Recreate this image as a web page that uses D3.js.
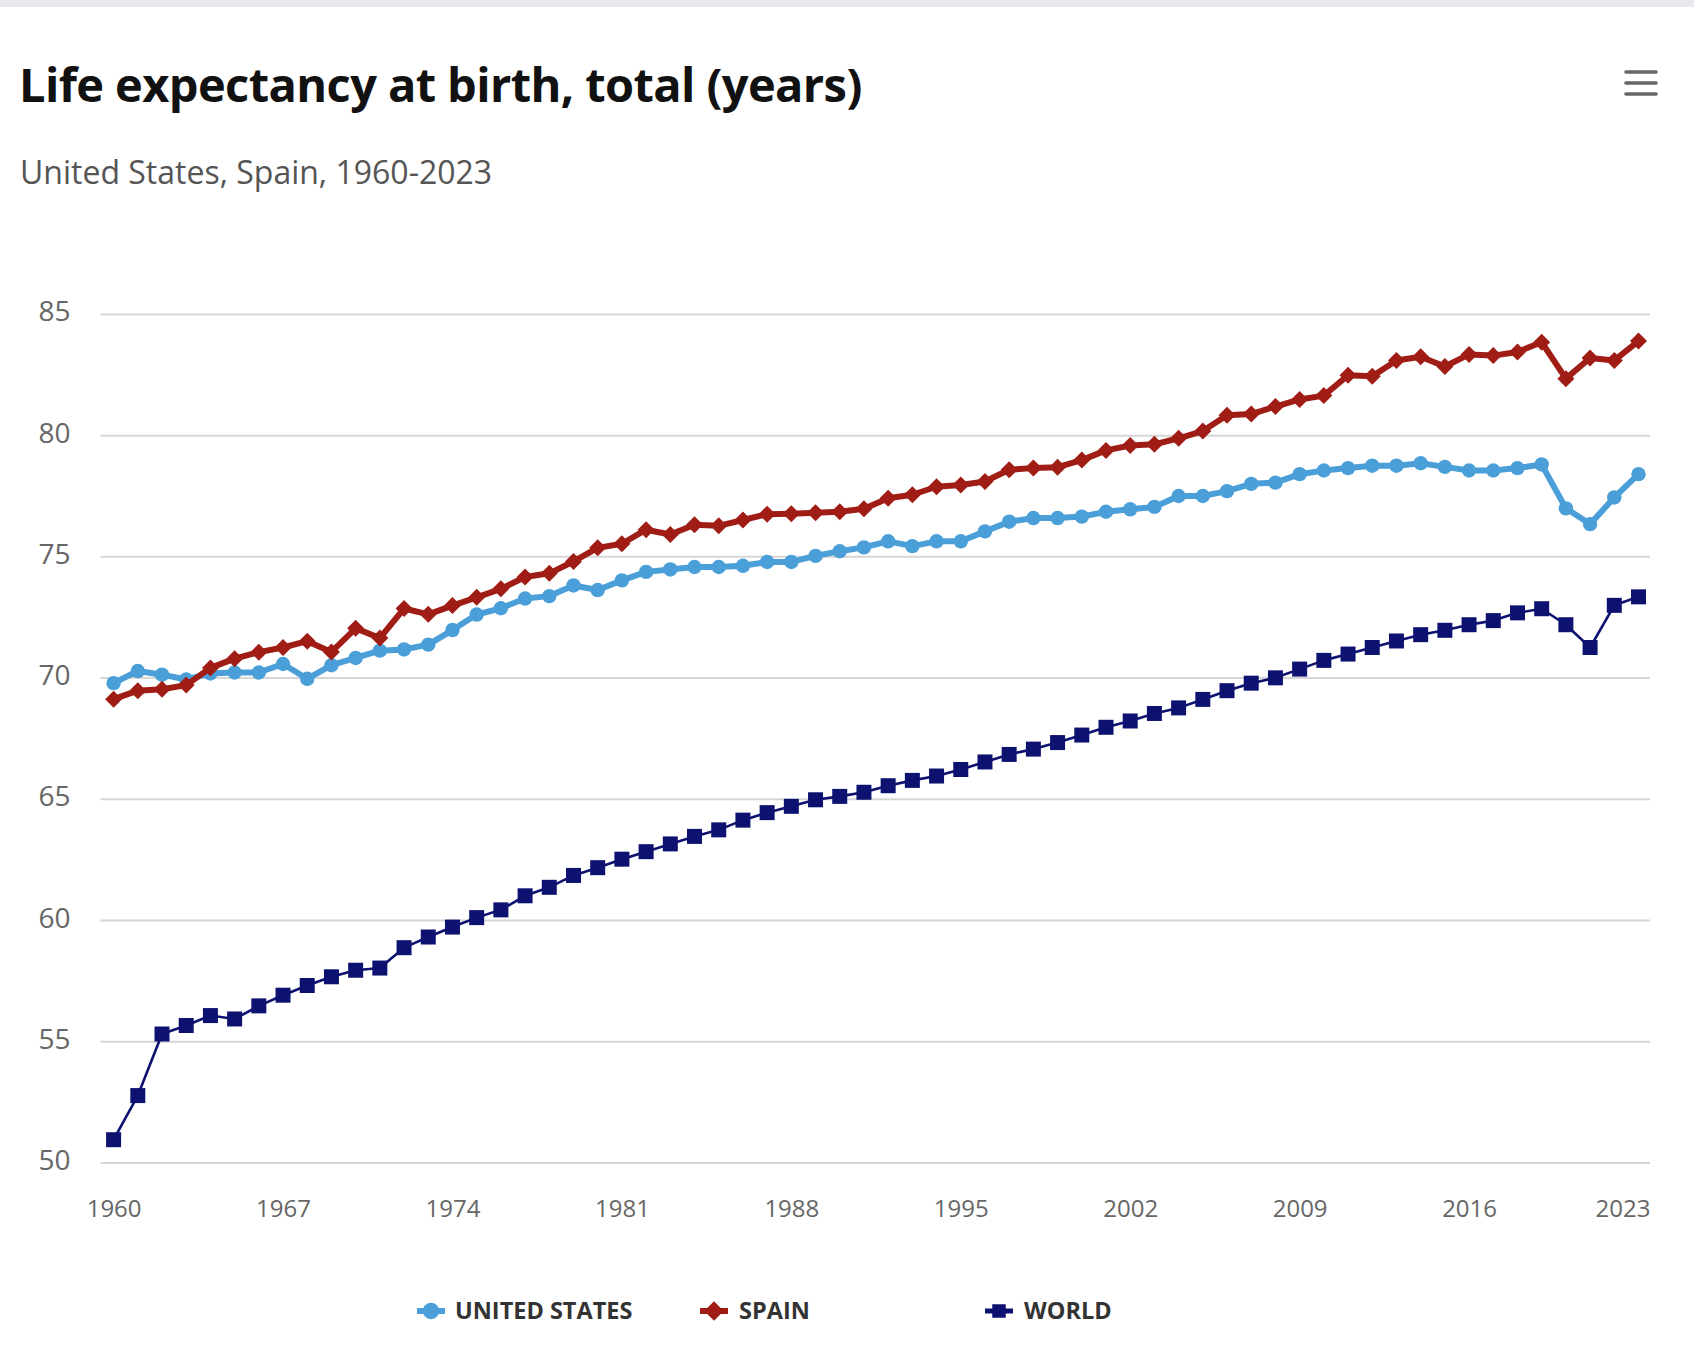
<!DOCTYPE html>
<html>
<head>
<meta charset="utf-8">
<script src="https://cdn.jsdelivr.net/npm/d3@7"></script>
<style>
  html, body { margin: 0; padding: 0; background: #fff; }
  svg { display: block; font-family: "Open Sans", "Noto Sans", sans-serif; }
</style>
</head>
<body>
<svg id="chart" width="1694" height="1357"></svg>
<script>
// Life expectancy at birth, total (years)
const years = d3.range(1960, 2024);

const usValues = [
  69.77, 70.27, 70.12, 69.92, 70.17, 70.21, 70.21, 70.56, 69.95, 70.51,
  70.81, 71.11, 71.16, 71.36, 71.96, 72.60, 72.86, 73.26, 73.36, 73.80,
  73.61, 74.01, 74.36, 74.46, 74.56, 74.56, 74.61, 74.77, 74.77, 75.02,
  75.21, 75.37, 75.62, 75.42, 75.62, 75.62, 76.03, 76.43, 76.58, 76.58,
  76.64, 76.84, 76.94, 77.04, 77.49, 77.49, 77.69, 77.99, 78.04, 78.39,
  78.54, 78.64, 78.74, 78.74, 78.84, 78.69, 78.54, 78.54, 78.64, 78.79,
  76.98, 76.33, 77.43, 78.39
];

const spainValues = [
  69.11, 69.46, 69.52, 69.69, 70.40, 70.78, 71.05, 71.24, 71.50, 71.06,
  72.03, 71.63, 72.85, 72.61, 72.97, 73.31, 73.66, 74.15, 74.30, 74.79,
  75.35, 75.52, 76.10, 75.90, 76.30, 76.26, 76.50, 76.74, 76.76, 76.80,
  76.84, 76.96, 77.40, 77.54, 77.87, 77.94, 78.09, 78.57, 78.64, 78.68,
  78.97, 79.37, 79.57, 79.62, 79.87, 80.17, 80.82, 80.87, 81.18, 81.47,
  81.63, 82.47, 82.43, 83.08, 83.23, 82.83, 83.33, 83.28, 83.43, 83.83,
  82.33, 83.18, 83.08, 83.88
];

const worldValues = [
  50.94, 52.76, 55.30, 55.65, 56.06, 55.92, 56.46, 56.90, 57.30, 57.66,
  57.93, 58.02, 58.86, 59.30, 59.71, 60.10, 60.42, 61.00, 61.35, 61.84,
  62.16, 62.51, 62.82, 63.14, 63.45, 63.72, 64.12, 64.43, 64.69, 64.96,
  65.10, 65.27, 65.54, 65.76, 65.94, 66.21, 66.52, 66.83, 67.05, 67.32,
  67.63, 67.95, 68.21, 68.52, 68.75, 69.10, 69.46, 69.77, 69.99, 70.35,
  70.71, 70.97, 71.24, 71.51, 71.77, 71.95, 72.18, 72.35, 72.67, 72.84,
  72.18, 71.24, 72.98, 73.33
];

const yTicks = [50, 55, 60, 65, 70, 75, 80, 85];
const xTickYears = [1960, 1967, 1974, 1981, 1988, 1995, 2002, 2009, 2016, 2023];

const seriesNames = ['UNITED STATES', 'SPAIN', 'WORLD'];

(function() {
  'use strict';

  const svg = d3.select('#chart');

  const gridLeft = 100.5;
  const gridRight = 1650;

  const x = d3.scaleLinear().domain([1960, 2023]).range([113.6, 1638.5]);
  const y = d3.scaleLinear().domain([50, 85]).range([1162.5, 313.9]);

  // top grey strip of the page
  svg.append('rect')
    .attr('x', 0).attr('y', 0).attr('width', 1694).attr('height', 7)
    .attr('fill', '#e7e9ed');

  // title and subtitle
  svg.append('text')
    .attr('x', 19).attr('y', 102)
    .attr('font-size', 47)
    .attr('font-weight', 700)
    .attr('fill', '#111')
    .attr('letter-spacing', -0.6)
    .text('Life expectancy at birth, total (years)');

  svg.append('text')
    .attr('x', 20).attr('y', 184)
    .attr('font-size', 32)
    .attr('fill', '#555')
    .text('United States, Spain, 1960-2023');

  // hamburger menu icon
  const menu = svg.append('g').attr('class', 'menu');
  [72, 83, 94].forEach(yy => {
    menu.append('line')
      .attr('x1', 1626).attr('x2', 1656)
      .attr('y1', yy).attr('y2', yy)
      .attr('stroke', '#666')
      .attr('stroke-width', 3.6)
      .attr('stroke-linecap', 'round');
  });

  // gridlines + y axis labels
  const yAxis = d3.axisLeft(y)
    .tickValues(yTicks)
    .tickSize(-(gridRight - gridLeft))
    .tickPadding(30)
    .tickFormat(d3.format('d'));

  const yg = svg.append('g')
    .attr('transform', `translate(${gridLeft},0)`)
    .call(yAxis);
  yg.select('.domain').remove();
  yg.selectAll('.tick line').attr('stroke', '#d6d6d6').attr('stroke-width', 2);
  yg.selectAll('.tick text')
    .attr('font-size', 28)
    .attr('fill', '#666')
    .attr('dy', '0.25em')
    .attr('font-family', '"Open Sans", sans-serif');

  // x axis labels
  const xAxis = d3.axisBottom(x)
    .tickValues(xTickYears)
    .tickSize(0)
    .tickPadding(0)
    .tickFormat(d3.format('d'));

  const xg = svg.append('g')
    .attr('transform', 'translate(0,1200)')
    .call(xAxis);
  xg.select('.domain').remove();
  xg.selectAll('.tick text')
    .attr('font-size', 24)
    .attr('fill', '#666')
    .attr('dy', '0.71em')
    .attr('font-family', '"Open Sans", sans-serif');
  // last label is pushed inside the plot like the original
  xg.selectAll('.tick text')
    .filter(d => d === 2023)
    .attr('text-anchor', 'end')
    .attr('x', gridRight - x(2023));

  // marker shapes
  const diamondPath = r => `M0,${-r}L${r},0L0,${r}L${-r},0Z`;
  const circlePath = r => d3.symbol().type(d3.symbolCircle).size(Math.PI * r * r)();
  const squarePath = s => `M${-s / 2},${-s / 2}h${s}v${s}h${-s}Z`;

  const series = [
    { name: seriesNames[0], values: usValues, color: '#4b9fd8', width: 6, marker: circlePath(7.2) },
    { name: seriesNames[1], values: spainValues, color: '#a01d16', width: 6, marker: diamondPath(8.5) },
    { name: seriesNames[2], values: worldValues, color: '#0d1270', width: 2.6, marker: squarePath(15) }
  ];

  const line = d3.line()
    .x(d => x(d.year))
    .y(d => y(d.value));

  // draw world first so the country lines sit above
  const drawOrder = [series[2], series[0], series[1]];

  drawOrder.forEach(s => {
    const pts = years.map((yr, i) => ({ year: yr, value: s.values[i] }));
    const g = svg.append('g').attr('class', 'series');

    g.append('path')
      .datum(pts)
      .attr('d', line)
      .attr('fill', 'none')
      .attr('stroke', s.color)
      .attr('stroke-width', s.width)
      .attr('stroke-linejoin', 'round');

    g.selectAll('path.marker')
      .data(pts)
      .enter()
      .append('path')
      .attr('class', 'marker')
      .attr('d', s.marker)
      .attr('fill', s.color)
      .attr('transform', d => `translate(${x(d.year)},${y(d.value)})`);
  });

  // legend
  const legendY = 1311;
  const legendItems = [
    { s: series[0], sx: 431, tx: 455 },
    { s: series[1], sx: 714, tx: 739 },
    { s: series[2], sx: 999, tx: 1024 }
  ];

  legendItems.forEach(item => {
    const g = svg.append('g').attr('class', 'legend-item');
    g.append('line')
      .attr('x1', item.sx - 14).attr('x2', item.sx + 14)
      .attr('y1', legendY).attr('y2', legendY)
      .attr('stroke', item.s.color)
      .attr('stroke-width', item.s === series[2] ? 5 : 6);
    g.append('path')
      .attr('d', item.s.marker)
      .attr('fill', item.s.color)
      .attr('transform', `translate(${item.sx},${legendY}) scale(${item.s === series[2] ? 0.9 : 1.15})`);
    g.append('text')
      .attr('x', item.tx).attr('y', legendY)
      .attr('dy', '0.36em')
      .attr('font-size', 23.5)
      .attr('font-weight', 700)
      .attr('fill', '#333')
      .text(item.s.name);
  });
})();
</script>
</body>
</html>
